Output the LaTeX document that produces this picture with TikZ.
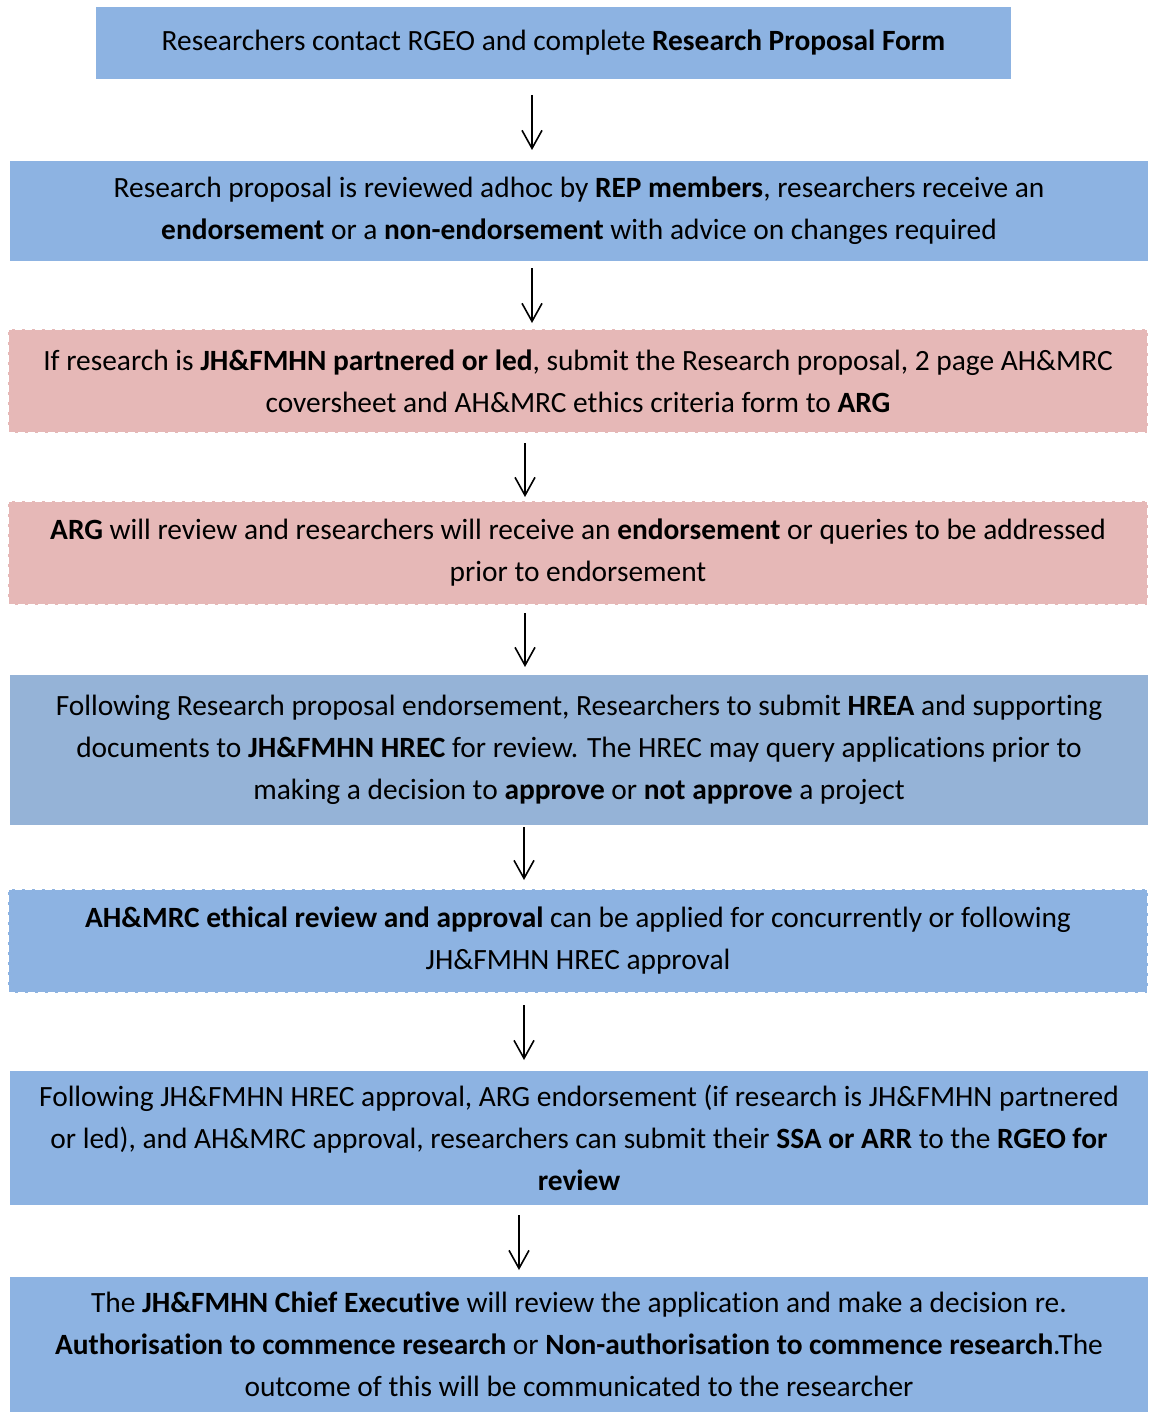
\documentclass[tikz,border=0pt]{standalone}
\usepackage{fontspec}
\setmainfont{Carlito}[Ligatures={NoCommon}]
\usepackage{tikz}
\usetikzlibrary{positioning, arrows.meta}
\definecolor{stepblue}{RGB}{141,179,226}
\definecolor{stepgrey}{RGB}{149,179,215}
\definecolor{steppink}{RGB}{230,184,183}
\tikzset{
		flow box/.style={
			rectangle,
			align=center,
			inner sep=0pt,
			outer sep=0pt,
			font=\fontsize{14.7}{21}\selectfont
		},
		blue box/.style={flow box, fill=stepblue},
		grey box/.style={flow box, fill=stepgrey},
		pink box/.style={flow box, fill=steppink},
		dashed edge/.style={draw=white, line width=1.3pt, dash pattern=on 3.5pt off 1.5pt},
		flow arrow/.style={-{Straight Barb[length=9pt, width=10pt]}, line width=0.8pt}
	}
\begin{document}
\begin{tikzpicture}[x=0.5pt, y=-0.5pt]
			\useasboundingbox (0,0) rectangle (1148,1412);
			% the eight steps, top to bottom
			\node (form) [blue box, minimum width=457.5pt, minimum height=36pt] at (553.5,43)
				{Researchers contact RGEO and complete \textbf{Research Proposal Form}};
			\node (rep) [blue box, minimum width=569pt, minimum height=50pt] at (579,211)
				{Research proposal is reviewed adhoc by \textbf{REP members}, researchers receive an\\
				 \textbf{endorsement} or a \textbf{non-endorsement} with advice on changes required};
			\node (submit) [pink box, dashed edge, minimum width=570pt, minimum height=52pt] at (578,381)
				{If research is \textbf{JH\&FMHN partnered or led}, submit the Research proposal, 2 page AH\&MRC\\
				 coversheet and AH\&MRC ethics criteria form to \textbf{ARG}};
			\node (arg) [pink box, dashed edge, minimum width=570pt, minimum height=52pt] at (578,553)
				{\textbf{ARG} will review and researchers will receive an \textbf{endorsement} or queries to be addressed\\
				 prior to endorsement};
			\node (hrec) [grey box, minimum width=569pt, minimum height=75pt] at (579,750)
				{Following Research proposal endorsement, Researchers to submit \textbf{HREA} and supporting\\
				 documents to \textbf{JH\&FMHN HREC} for review. The HREC may query applications prior to\\
				 making a decision to \textbf{approve} or \textbf{not approve} a project};
			\node (ahmrc) [blue box, dashed edge, minimum width=570pt, minimum height=52pt] at (578,941)
				{\textbf{AH\&MRC ethical review and approval} can be applied for concurrently or following\\
				 JH\&FMHN HREC approval};
			\node (ssa) [blue box, minimum width=569pt, minimum height=67pt] at (579,1138)
				{Following JH\&FMHN HREC approval, ARG endorsement (if research is JH\&FMHN partnered\\
				 or led), and AH\&MRC approval, researchers can submit their \textbf{SSA or ARR} to the \textbf{RGEO for}\\
				 \textbf{review}};
			\node (ceo) [blue box, minimum width=569pt, minimum height=67.5pt] at (579,1344.5)
				{The \textbf{JH\&FMHN Chief Executive} will review the application and make a decision re.\\
				 \textbf{Authorisation to commence research} or \textbf{Non-authorisation to commence research}.The\\
				 outcome of this will be communicated to the researcher};
			% arrows between the steps
			\draw [flow arrow] ([xshift=-10.75pt, yshift=-8pt]form.south) -- ([xshift=-23.5pt, yshift=5.5pt]rep.north);
			\draw [flow arrow] ([xshift=-23.5pt, yshift=-3.5pt]rep.south) -- ([xshift=-23pt, yshift=3pt]submit.north);
			\draw [flow arrow] ([xshift=-26.5pt, yshift=-5pt]submit.south) -- ([xshift=-26.5pt, yshift=2pt]arg.north);
			\draw [flow arrow] ([xshift=-26.5pt, yshift=-4pt]arg.south) -- ([xshift=-27pt, yshift=4pt]hrec.north);
			\draw [flow arrow] ([xshift=-27.5pt, yshift=-1pt]hrec.south) -- ([xshift=-27pt, yshift=4.5pt]ahmrc.north);
			\draw [flow arrow] ([xshift=-27pt, yshift=-6pt]ahmrc.south) -- ([xshift=-27.5pt, yshift=5.5pt]ssa.north);
			\draw [flow arrow] ([xshift=-30pt, yshift=-5pt]ssa.south) -- ([xshift=-30pt, yshift=3.5pt]ceo.north);
\end{tikzpicture}
\end{document}
